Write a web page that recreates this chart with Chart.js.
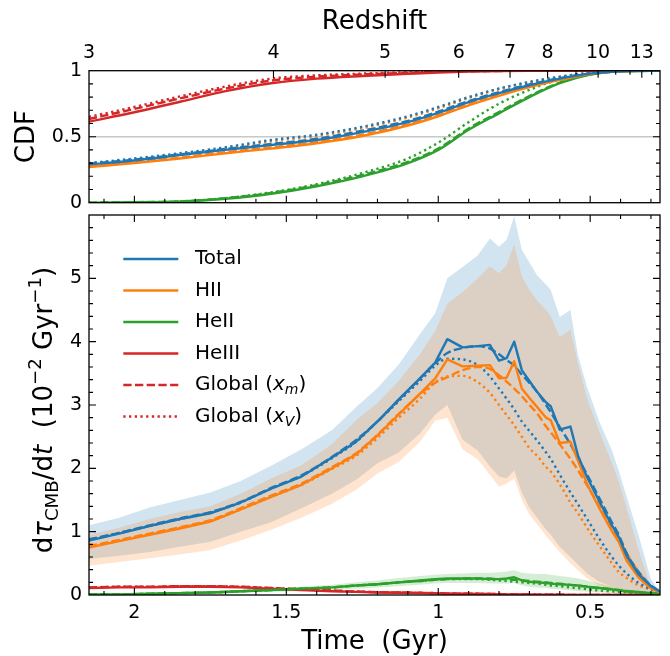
<!DOCTYPE html>
<html>
<head>
<meta charset="utf-8">
<title>Optical depth build-up</title>
<script src="https://cdn.jsdelivr.net/npm/chart.js@4.4.1/dist/chart.umd.min.js"></script>
<style>
  html, body { margin: 0; padding: 0; background: #fff; }
  #wrap { position: relative; width: 670px; height: 656px; }
  #wrap canvas { position: absolute; left: 0; top: 0; }
</style>
</head>
<body>
<div id="wrap">
  <canvas id="cdfChart" width="670" height="656"></canvas>
  <canvas id="rateChart" width="670" height="656"></canvas>
</div>
<script>
const BLUE = '#1f77b4', ORANGE = '#ff7f0e', GREEN = '#2ca02c', RED = '#d62728';
const LINE_W = 2.4;
const DASH = [8.3, 3.4];
const DOT = [2.3, 3.4];

// age of the universe (Gyr) at redshift z, flat matter + Lambda
const H0 = 67.7, OMEGA_M = 0.31;
function ageAt(z) {
  const ol = 1 - OMEGA_M;
  const tH = 977.8 / H0;
  return 2 / (3 * Math.sqrt(ol)) * tH * Math.asinh(Math.sqrt(ol / OMEGA_M) * Math.pow(1 + z, -1.5));
}
const T_MIN = ageAt(15), T_MAX = ageAt(3);

const seriesNames = ['Total', 'HII', 'HeII', 'HeIII'];
const seriesColors = [BLUE, ORANGE, GREEN, RED];
const redshiftLabels = [3, 4, 5, 6, 7, 8, 10, 13];
const timeLabels = [2, 1.5, 1, 0.5];
const rateLabels = [0, 1, 2, 3, 4, 5];
const cdfLabels = [0, 0.5, 1];

// dtau/dt in units of 1e-2 per Gyr
const timeGyr = [2.15, 2.05, 1.95, 1.85, 1.75, 1.65, 1.55, 1.45, 1.35, 1.27, 1.2, 1.13, 1.06, 1.01, 0.97, 0.92, 0.87, 0.83, 0.80, 0.775, 0.75, 0.725, 0.70, 0.675, 0.645, 0.63, 0.60, 0.565, 0.54, 0.51, 0.47, 0.43, 0.405, 0.38, 0.34, 0.30, 0.27];

const totalSim = [0.86, 0.97, 1.09, 1.20, 1.29, 1.46, 1.68, 1.87, 2.17, 2.42, 2.74, 3.09, 3.42, 3.67, 4.04, 3.91, 3.93, 3.95, 3.70, 3.74, 4.00, 3.55, 3.38, 3.21, 3.04, 2.98, 2.61, 2.66, 2.20, 1.86, 1.48, 1.11, 0.91, 0.62, 0.32, 0.14, 0.05];
const totalXm = [0.88, 0.98, 1.10, 1.21, 1.31, 1.47, 1.69, 1.89, 2.18, 2.45, 2.74, 3.08, 3.42, 3.66, 3.82, 3.90, 3.93, 3.89, 3.80, 3.71, 3.62, 3.48, 3.35, 3.21, 3.00, 2.89, 2.65, 2.38, 2.16, 1.90, 1.53, 1.16, 0.94, 0.66, 0.36, 0.15, 0.06];
const totalXv = [0.87, 0.98, 1.09, 1.20, 1.30, 1.46, 1.68, 1.88, 2.16, 2.42, 2.74, 3.06, 3.38, 3.62, 3.73, 3.72, 3.63, 3.45, 3.26, 3.10, 2.93, 2.74, 2.59, 2.44, 2.25, 2.15, 1.90, 1.62, 1.43, 1.20, 0.89, 0.61, 0.46, 0.34, 0.19, 0.09, 0.04];
const totalHi = [1.10, 1.22, 1.38, 1.50, 1.62, 1.80, 2.04, 2.30, 2.60, 2.97, 3.27, 3.64, 4.12, 4.45, 5.00, 5.18, 5.36, 5.63, 5.50, 5.61, 5.98, 5.45, 5.25, 5.05, 4.90, 4.82, 4.39, 4.50, 3.78, 3.28, 2.74, 2.30, 1.95, 1.55, 0.93, 0.25, 0.04];
const totalLo = [0.57, 0.62, 0.68, 0.76, 0.84, 1.00, 1.15, 1.37, 1.60, 1.82, 2.08, 2.25, 2.55, 2.85, 3.00, 2.45, 2.28, 2.03, 1.87, 1.84, 1.97, 1.62, 1.38, 1.22, 1.03, 0.95, 0.76, 0.60, 0.48, 0.34, 0.21, 0.14, 0.11, 0.08, 0.05, 0.02, 0.01];

const hiiSim = [0.75, 0.85, 0.95, 1.05, 1.16, 1.35, 1.55, 1.74, 2.00, 2.22, 2.52, 2.85, 3.18, 3.42, 3.72, 3.61, 3.62, 3.63, 3.42, 3.43, 3.69, 3.26, 3.11, 2.97, 2.80, 2.76, 2.40, 2.42, 2.12, 1.75, 1.37, 1.02, 0.83, 0.54, 0.27, 0.10, 0.04];
const hiiXm = [0.77, 0.87, 0.97, 1.07, 1.18, 1.37, 1.57, 1.76, 2.02, 2.24, 2.53, 2.86, 3.17, 3.35, 3.44, 3.55, 3.60, 3.57, 3.47, 3.37, 3.26, 3.14, 3.00, 2.87, 2.66, 2.57, 2.38, 2.15, 1.97, 1.73, 1.41, 1.08, 0.88, 0.66, 0.36, 0.14, 0.05];
const hiiXv = [0.76, 0.86, 0.96, 1.06, 1.17, 1.35, 1.55, 1.74, 1.99, 2.20, 2.48, 2.80, 3.10, 3.36, 3.45, 3.46, 3.36, 3.19, 3.00, 2.84, 2.68, 2.50, 2.32, 2.20, 2.02, 1.95, 1.75, 1.46, 1.29, 1.06, 0.78, 0.51, 0.36, 0.27, 0.15, 0.09, 0.04];
const hiiHi = [0.95, 1.06, 1.20, 1.31, 1.40, 1.60, 1.84, 2.05, 2.38, 2.76, 3.03, 3.38, 3.80, 4.17, 4.60, 4.78, 5.00, 5.19, 5.08, 5.21, 5.53, 5.03, 4.82, 4.65, 4.50, 4.40, 4.07, 4.19, 3.65, 3.10, 2.58, 2.10, 1.78, 1.37, 0.70, 0.12, 0.03];
const hiiLo = [0.46, 0.52, 0.58, 0.64, 0.71, 0.86, 1.03, 1.22, 1.44, 1.66, 1.92, 2.10, 2.42, 2.75, 2.80, 2.30, 2.14, 1.90, 1.71, 1.76, 1.84, 1.50, 1.27, 1.12, 0.93, 0.85, 0.68, 0.50, 0.39, 0.26, 0.15, 0.09, 0.07, 0.05, 0.03, 0.01, 0.0];

const heiiSim = [0.01, 0.01, 0.02, 0.03, 0.04, 0.06, 0.08, 0.10, 0.12, 0.15, 0.17, 0.20, 0.23, 0.25, 0.26, 0.26, 0.26, 0.25, 0.25, 0.26, 0.28, 0.23, 0.21, 0.20, 0.19, 0.18, 0.17, 0.16, 0.15, 0.13, 0.11, 0.09, 0.07, 0.06, 0.05, 0.03, 0.02];
const heiiXm = [0.01, 0.01, 0.02, 0.03, 0.04, 0.06, 0.08, 0.10, 0.12, 0.15, 0.17, 0.20, 0.22, 0.24, 0.25, 0.26, 0.26, 0.26, 0.25, 0.25, 0.24, 0.23, 0.22, 0.21, 0.20, 0.19, 0.18, 0.16, 0.15, 0.13, 0.11, 0.09, 0.08, 0.06, 0.04, 0.03, 0.02];
const heiiXv = [0.01, 0.01, 0.02, 0.03, 0.04, 0.06, 0.08, 0.10, 0.12, 0.15, 0.17, 0.20, 0.22, 0.24, 0.25, 0.25, 0.25, 0.24, 0.23, 0.22, 0.21, 0.20, 0.19, 0.18, 0.16, 0.15, 0.14, 0.12, 0.11, 0.09, 0.07, 0.06, 0.05, 0.04, 0.03, 0.02, 0.01];
const heiiHi = [0.02, 0.02, 0.03, 0.04, 0.06, 0.08, 0.10, 0.13, 0.16, 0.20, 0.23, 0.27, 0.30, 0.32, 0.33, 0.34, 0.35, 0.35, 0.36, 0.37, 0.39, 0.35, 0.34, 0.33, 0.33, 0.32, 0.30, 0.28, 0.26, 0.23, 0.18, 0.14, 0.11, 0.09, 0.06, 0.03, 0.02];
const heiiLo = [0.0, 0.0, 0.01, 0.02, 0.02, 0.03, 0.05, 0.06, 0.08, 0.10, 0.12, 0.14, 0.16, 0.18, 0.19, 0.19, 0.19, 0.18, 0.18, 0.18, 0.19, 0.15, 0.13, 0.12, 0.11, 0.10, 0.09, 0.07, 0.06, 0.05, 0.04, 0.03, 0.02, 0.02, 0.01, 0.01, 0.0];

const heiiiSim = [0.11, 0.12, 0.12, 0.13, 0.13, 0.12, 0.10, 0.08, 0.06, 0.05, 0.04, 0.035, 0.03, 0.025, 0.02, 0.02, 0.015, 0.015, 0.01, 0.01, 0.01, 0.01, 0.01, 0.005, 0.005, 0.005, 0.005, 0, 0, 0, 0, 0, 0, 0, 0, 0, 0];
const heiiiXm = [0.12, 0.13, 0.13, 0.14, 0.14, 0.13, 0.11, 0.09, 0.07, 0.055, 0.045, 0.04, 0.035, 0.03, 0.025, 0.02, 0.02, 0.015, 0.015, 0.01, 0.01, 0.01, 0.01, 0.005, 0.005, 0.005, 0.005, 0, 0, 0, 0, 0, 0, 0, 0, 0, 0];
const heiiiXv = [0.12, 0.13, 0.13, 0.14, 0.14, 0.13, 0.11, 0.09, 0.07, 0.055, 0.045, 0.04, 0.035, 0.03, 0.025, 0.02, 0.02, 0.015, 0.015, 0.01, 0.01, 0.01, 0.01, 0.005, 0.005, 0.005, 0.005, 0, 0, 0, 0, 0, 0, 0, 0, 0, 0];

// cumulative fraction of tau reached by each time
const cdfTime = [2.15, 2.0, 1.85, 1.7, 1.55, 1.4, 1.25, 1.1, 1.0, 0.9, 0.8, 0.7, 0.6, 0.5, 0.4, 0.3, 0.27];
const cdfTotal = [0.29, 0.32, 0.36, 0.40, 0.437, 0.475, 0.535, 0.61, 0.68, 0.762, 0.83, 0.89, 0.94, 0.978, 0.996, 1.0, 1.0];
const cdfTotalXm = [0.295, 0.326, 0.366, 0.407, 0.445, 0.484, 0.545, 0.62, 0.69, 0.77, 0.838, 0.896, 0.944, 0.98, 0.997, 1.0, 1.0];
const cdfTotalXv = [0.30, 0.335, 0.375, 0.42, 0.475, 0.515, 0.575, 0.655, 0.725, 0.80, 0.865, 0.915, 0.955, 0.985, 0.998, 1.0, 1.0];
const cdfHii = [0.27, 0.30, 0.335, 0.375, 0.41, 0.45, 0.505, 0.585, 0.655, 0.738, 0.81, 0.875, 0.93, 0.975, 0.995, 1.0, 1.0];
const cdfHiiXm = [0.276, 0.306, 0.342, 0.383, 0.418, 0.459, 0.515, 0.594, 0.664, 0.746, 0.818, 0.881, 0.934, 0.977, 0.996, 1.0, 1.0];
const cdfHiiXv = [0.29, 0.325, 0.365, 0.41, 0.465, 0.505, 0.565, 0.645, 0.715, 0.793, 0.86, 0.912, 0.953, 0.984, 0.998, 1.0, 1.0];
const cdfHeii = [0.0, 0.003, 0.008, 0.03, 0.068, 0.125, 0.20, 0.30, 0.40, 0.552, 0.677, 0.80, 0.905, 0.97, 0.997, 1.0, 1.0];
const cdfHeiiXm = [0.0, 0.004, 0.01, 0.034, 0.074, 0.133, 0.21, 0.31, 0.41, 0.562, 0.687, 0.808, 0.91, 0.972, 0.997, 1.0, 1.0];
const cdfHeiiXv = [0.0, 0.003, 0.01, 0.035, 0.078, 0.14, 0.225, 0.335, 0.455, 0.61, 0.75, 0.855, 0.935, 0.98, 0.998, 1.0, 1.0];
const cdfHeiii = [0.614, 0.685, 0.765, 0.845, 0.905, 0.94, 0.96, 0.976, 0.986, 0.993, 0.997, 0.999, 1.0, 1.0, 1.0, 1.0, 1.0];
const cdfHeiiiXm = [0.634, 0.71, 0.79, 0.865, 0.925, 0.955, 0.972, 0.984, 0.991, 0.996, 0.998, 1.0, 1.0, 1.0, 1.0, 1.0, 1.0];
const cdfHeiiiXv = [0.65, 0.725, 0.805, 0.88, 0.94, 0.965, 0.978, 0.988, 0.994, 0.997, 0.999, 1.0, 1.0, 1.0, 1.0, 1.0, 1.0];

Chart.defaults.font.family = 'DejaVu Sans';
Chart.defaults.color = '#000';

const xy = (xs, ys) => xs.map((x, i) => ({ x, y: ys[i] }));

function series(times, values, color, style, order, smooth) {
  const ds = {
    data: xy(times, values), borderColor: color, borderWidth: LINE_W, borderJoinStyle: 'round',
    pointRadius: 0, fill: false, order
  };
  if (style === 'dashed') ds.borderDash = DASH;
  if (style === 'dotted') ds.borderDash = DOT;
  if (smooth) ds.cubicInterpolationMode = 'monotone';
  return ds;
}

// shaded scatter band: upper edge fills down to the next dataset
function band(times, hi, lo, rgb, order) {
  return [
    { data: xy(times, hi), borderColor: 'transparent', borderWidth: 0, pointRadius: 0,
      fill: '+1', backgroundColor: `rgba(${rgb},0.2)`, order },
    { data: xy(times, lo), borderColor: 'transparent', borderWidth: 0, pointRadius: 0,
      fill: false, order }
  ];
}

function fontOf(part, size) {
  const s = part.sub || part.sup ? size * 0.7 : size;
  return (part.it ? 'italic ' : '') + s + 'px "DejaVu Sans"';
}
function richWidth(ctx, parts, size) {
  let w = 0;
  parts.forEach(p => { ctx.font = fontOf(p, size); w += ctx.measureText(p.s).width; });
  return w;
}
function drawRich(ctx, parts, x, y, size) {
  let cx = x;
  parts.forEach(p => {
    ctx.font = fontOf(p, size);
    const dy = p.sub ? size * 0.22 : p.sup ? -size * 0.42 : 0;
    ctx.fillText(p.s, cx, y + dy);
    cx += ctx.measureText(p.s).width;
  });
}

// inward ticks on all four sides plus the axes frame
function drawFrame(chart, yStep, yCount, yMajorEvery, timeTop) {
  const { ctx, chartArea: a } = chart;
  const xs = chart.scales.x, ys = chart.scales.y;
  ctx.save();
  ctx.strokeStyle = '#000';
  ctx.lineWidth = 1.1;
  ctx.beginPath();
  for (let k = 3; k <= 21; k++) {
    const px = xs.getPixelForValue(k / 10);
    const len = k % 5 === 0 ? 7 : 4;
    ctx.moveTo(px, a.bottom); ctx.lineTo(px, a.bottom - len);
    if (timeTop) { ctx.moveTo(px, a.top); ctx.lineTo(px, a.top + len); }
  }
  for (let k = 1; k < yCount; k++) {
    const py = ys.getPixelForValue(k * yStep);
    const len = k % yMajorEvery === 0 ? 7 : 4;
    ctx.moveTo(a.left, py); ctx.lineTo(a.left + len, py);
    ctx.moveTo(a.right, py); ctx.lineTo(a.right - len, py);
  }
  if (!timeTop) {
    const zs = chart.scales.xz;
    for (let z = 4; z <= 14; z++) {
      const px = zs.getPixelForValue(ageAt(z));
      const len = redshiftLabels.includes(z) ? 7 : 4;
      ctx.moveTo(px, a.top); ctx.lineTo(px, a.top + len);
    }
  }
  ctx.stroke();
  ctx.lineWidth = 1.3;
  ctx.strokeRect(a.left, a.top, a.right - a.left, a.bottom - a.top);
  ctx.restore();
}

const tickFont = { size: 19 };
const hiddenGrid = { display: false, drawTicks: false };

// ---------- top panel: cumulative distribution ----------
const cdfSets = [
  [cdfTotal, cdfTotalXm, cdfTotalXv],
  [cdfHii, cdfHiiXm, cdfHiiXv],
  [cdfHeii, cdfHeiiXm, cdfHeiiXv],
  [cdfHeiii, cdfHeiiiXm, cdfHeiiiXv]
];
const cdfDatasets = [];
cdfSets.forEach((set, i) => {
  cdfDatasets.push(series(cdfTime, set[0], seriesColors[i], 'solid', 1, true));
  cdfDatasets.push(series(cdfTime, set[1], seriesColors[i], 'dashed', 2, true));
  cdfDatasets.push(series(cdfTime, set[2], seriesColors[i], 'dotted', 3, true));
});

new Chart(document.getElementById('cdfChart'), {
  type: 'line',
  data: { datasets: cdfDatasets },
  options: {
    responsive: false, animation: false, devicePixelRatio: 1,
    layout: { padding: { left: 0, right: 10, top: 0, bottom: 656 - 202.7 } },
    plugins: { legend: { display: false }, tooltip: { enabled: false } },
    scales: {
      x: { type: 'linear', min: T_MIN, max: T_MAX, reverse: true, display: false },
      xz: {
        type: 'linear', position: 'top', min: T_MIN, max: T_MAX, reverse: true,
        grid: hiddenGrid, border: { display: false },
        afterBuildTicks: s => { s.ticks = redshiftLabels.map(z => ({ value: ageAt(z) })); },
        afterFit: s => { s.height = 70.7; },
        ticks: { autoSkip: false, maxRotation: 0, minRotation: 0, padding: 6, color: '#000', font: tickFont,
                 callback: (v, i) => String(redshiftLabels[i]) }
      },
      y: {
        min: 0, max: 1, grid: hiddenGrid, border: { display: false },
        afterBuildTicks: s => { s.ticks = cdfLabels.map(v => ({ value: v })); },
        afterFit: s => { s.width = 89; },
        ticks: { padding: 7, color: '#000', font: tickFont, callback: v => String(v) }
      }
    }
  },
  plugins: [{
    id: 'cdfDecor',
    beforeDatasetsDraw(chart) {
      const { ctx, chartArea: a } = chart;
      const py = chart.scales.y.getPixelForValue(0.5);
      ctx.save();
      ctx.strokeStyle = '#c8c8c8';
      ctx.lineWidth = 1.5;
      ctx.beginPath();
      ctx.moveTo(a.left, py); ctx.lineTo(a.right, py);
      ctx.stroke();
      ctx.restore();
    },
    afterDatasetsDraw(chart) { drawFrame(chart, 0.1, 10, 5, false); },
    afterDraw(chart) {
      const { ctx, chartArea: a } = chart;
      ctx.save();
      ctx.fillStyle = '#000';
      ctx.font = '26px "DejaVu Sans"';
      ctx.textAlign = 'center';
      ctx.textBaseline = 'alphabetic';
      ctx.fillText('Redshift', (a.left + a.right) / 2, 28.5);
      ctx.translate(33.5, (a.top + a.bottom) / 2);
      ctx.rotate(-Math.PI / 2);
      ctx.fillText('CDF', 0, 0);
      ctx.restore();
    }
  }]
});

// ---------- bottom panel: differential optical depth ----------
const rateSets = [
  [totalSim, totalXm, totalXv],
  [hiiSim, hiiXm, hiiXv],
  [heiiSim, heiiXm, heiiXv],
  [heiiiSim, heiiiXm, heiiiXv]
];
const rateDatasets = [];
rateSets.forEach((set, i) => {
  rateDatasets.push(series(timeGyr, set[0], seriesColors[i], 'solid', 1, false));
  rateDatasets.push(series(timeGyr, set[1], seriesColors[i], 'dashed', 2, true));
  rateDatasets.push(series(timeGyr, set[2], seriesColors[i], 'dotted', 3, true));
});
rateDatasets.push(...band(timeGyr, totalHi, totalLo, '31,119,180', 30));
rateDatasets.push(...band(timeGyr, hiiHi, hiiLo, '255,127,14', 29));
rateDatasets.push(...band(timeGyr, heiiHi, heiiLo, '44,160,44', 28));

const legendRows = [
  { color: BLUE, dash: [], parts: [{ s: seriesNames[0] }] },
  { color: ORANGE, dash: [], parts: [{ s: seriesNames[1] }] },
  { color: GREEN, dash: [], parts: [{ s: seriesNames[2] }] },
  { color: RED, dash: [], parts: [{ s: seriesNames[3] }] },
  { color: RED, dash: DASH, parts: [{ s: 'Global (' }, { s: 'x', it: true }, { s: 'm', it: true, sub: true }, { s: ')' }] },
  { color: RED, dash: DOT, parts: [{ s: 'Global (' }, { s: 'x', it: true }, { s: 'V', it: true, sub: true }, { s: ')' }] }
];

const yTitle = [
  { s: 'd' }, { s: 'τ', it: true }, { s: 'CMB', sub: true }, { s: '/d' }, { s: 't', it: true },
  { s: '  (10' }, { s: '−2', sup: true }, { s: ' Gyr' }, { s: '−1', sup: true }, { s: ')' }
];

new Chart(document.getElementById('rateChart'), {
  type: 'line',
  data: { datasets: rateDatasets },
  options: {
    responsive: false, animation: false, devicePixelRatio: 1,
    layout: { padding: { left: 0, right: 10, top: 215, bottom: 0 } },
    plugins: { legend: { display: false }, tooltip: { enabled: false } },
    scales: {
      x: {
        type: 'linear', min: T_MIN, max: T_MAX, reverse: true,
        grid: hiddenGrid, border: { display: false },
        afterBuildTicks: s => { s.ticks = timeLabels.map(v => ({ value: v })); },
        afterFit: s => { s.height = 61; },
        ticks: { autoSkip: false, maxRotation: 0, minRotation: 0, padding: 6.4, color: '#000', font: tickFont,
                 callback: v => String(v) }
      },
      y: {
        min: 0, max: 6, grid: hiddenGrid, border: { display: false },
        afterBuildTicks: s => { s.ticks = rateLabels.map(v => ({ value: v })); },
        afterFit: s => { s.width = 89; },
        ticks: { padding: 7, color: '#000', font: tickFont, callback: v => String(v) }
      }
    }
  },
  plugins: [{
    id: 'rateDecor',
    afterDatasetsDraw(chart) { drawFrame(chart, 0.2, 30, 5, true); },
    afterDraw(chart) {
      const { ctx, chartArea: a } = chart;
      ctx.save();
      ctx.fillStyle = '#000';
      ctx.textBaseline = 'alphabetic';

      // legend
      legendRows.forEach((row, i) => {
        const base = 264 + i * 31.5;
        ctx.strokeStyle = row.color;
        ctx.lineWidth = LINE_W;
        ctx.setLineDash(row.dash);
        ctx.beginPath();
        ctx.moveTo(123.3, base - 5);
        ctx.lineTo(178.3, base - 5);
        ctx.stroke();
        ctx.setLineDash([]);
        ctx.textAlign = 'left';
        drawRich(ctx, row.parts, 195, base, 20);
      });

      // axis titles
      ctx.font = '26px "DejaVu Sans"';
      ctx.textAlign = 'center';
      ctx.fillText('Time  (Gyr)', (a.left + a.right) / 2, 648.5);

      ctx.textAlign = 'left';
      const w = richWidth(ctx, yTitle, 26);
      ctx.translate(52, 410);
      ctx.rotate(-Math.PI / 2);
      drawRich(ctx, yTitle, -w / 2, 0, 26);
      ctx.restore();
    }
  }]
});
</script>
</body>
</html>
